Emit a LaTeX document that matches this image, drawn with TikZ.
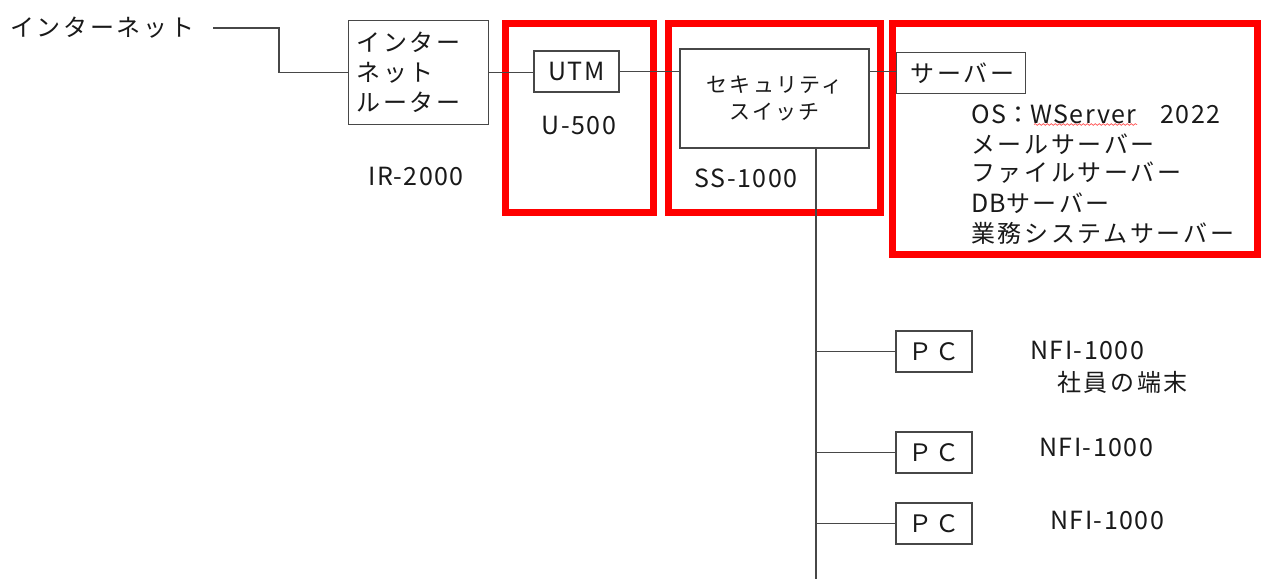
\documentclass[tikz,border=0pt]{standalone}
\usepackage{fontspec}
\setmainfont{Noto Sans CJK JP}
\newfontfamily\jpfam{Noto Sans CJK JP}[LetterSpace=11]
\newfontfamily\jpsmall{Noto Sans CJK JP}[LetterSpace=10]
\newfontfamily\latfam{Noto Sans CJK JP}[LetterSpace=6]
\newcommand\jtx[1]{{\jpfam\fontsize{24}{30}\selectfont #1}}
\newcommand\ltx[1]{{\latfam\fontsize{25}{30}\selectfont #1}}
\usetikzlibrary{decorations.pathmorphing}
\begin{document}
\begin{tikzpicture}[x=1pt,y=-1pt,
  box/.style={draw=black!72, line width=1.1pt, inner sep=0pt, text=black!90},
  redbox/.style={draw=red, line width=7pt},
  wire/.style={draw=black!72, line width=1.1pt},
  lbl/.style={inner sep=0pt, text=black!90}]
\useasboundingbox (0,0) rectangle (1261,579);
\fill[white] (0,0) rectangle (1261,579);

% red frames
\draw[redbox] (505,23) rectangle (653,212);
\draw[redbox] (668,23) rectangle (880,212);
\draw[redbox] (892,23) rectangle (1257.5,254);

% nodes
\node[lbl, anchor=west] (inet) at (10,28) {\jtx{インターネット}};
\node[box, anchor=north west, minimum width=137pt, minimum height=104pt, text width=124pt, align=left, inner xsep=8pt, font=\jpfam\fontsize{24}{30}\selectfont] (router) at (348,20) {インター\\ネット\\ルーター};
\node[box, minimum width=85pt, minimum height=41pt] (utm) at (576.5,71.5) {\ltx{UTM}};
\node[box, minimum width=189pt, minimum height=99pt, align=center, font=\jpsmall\fontsize{21}{27}\selectfont] (ss) at (774.5,98.5) {セキュリティ\\スイッチ};
\node[box, anchor=north west, minimum width=129pt, minimum height=41pt, text width=119pt, align=left, inner xsep=0pt] (srv) at (896,52) {\hspace*{9pt}\jtx{サーバー}};
\node[box, minimum width=76pt, minimum height=41pt] (pc1) at (934,351.5) {\jtx{ＰＣ}};
\node[box, minimum width=76pt, minimum height=41pt] (pc2) at (934,452.5) {\jtx{ＰＣ}};
\node[box, minimum width=76pt, minimum height=41pt] (pc3) at (934,523.5) {\jtx{ＰＣ}};

% labels
\node[lbl] (ir) at (416,176) {\ltx{IR-2000}};
\node[lbl] (u500) at (579,125) {\ltx{U-500}};
\node[lbl] (ss1000) at (746,178) {\ltx{SS-1000}};
\node[lbl, anchor=west] (s1) at (971,114) {\ltx{OS}\jtx{：}\ltx{WServer}\jtx{　}\ltx{2022}};
\node[lbl, anchor=west] (s2) at (971,144) {\jtx{メールサーバー}};
\node[lbl, anchor=west] (s3) at (971,173) {\jtx{ファイルサーバー}};
\node[lbl, anchor=west] (s4) at (971,203) {\ltx{DB}\jtx{サーバー}};
\node[lbl, anchor=west] (s5) at (971,233) {\jtx{業務システムサーバー}};
\node[lbl, anchor=west] (n1) at (1030,350) {\ltx{NFI-1000}};
\node[lbl, anchor=west] (n1b) at (1057,382) {\jtx{社員の端末}};
\node[lbl, anchor=west] (n2) at (1039,447) {\ltx{NFI-1000}};
\node[lbl, anchor=west] (n3) at (1050,520) {\ltx{NFI-1000}};

% spell-check squiggle
\draw[red!65, line width=0.7pt, decorate, decoration={snake, amplitude=0.9pt, segment length=4pt}] (1034,124.5) -- (1137,124.5);

% wires
\coordinate (inetend) at (213,28);
\coordinate (bend) at (279,28);
\draw[wire] (inetend) -- (bend) |- (router.west);
\draw[wire] (router.east) -- (router.east -| utm.west);
\draw[wire] (utm.east) -- (utm.east -| ss.west);
\draw[wire] (utm.east -| ss.east) -- (utm.east -| srv.west);
\coordinate (bus) at (816,579);
\draw[wire] (bus |- ss.south) -- (bus);
\draw[wire] (bus |- pc1.west) -- (pc1.west);
\draw[wire] (bus |- pc2.west) -- (pc2.west);
\draw[wire] (bus |- pc3.west) -- (pc3.west);
\end{tikzpicture}
\end{document}
